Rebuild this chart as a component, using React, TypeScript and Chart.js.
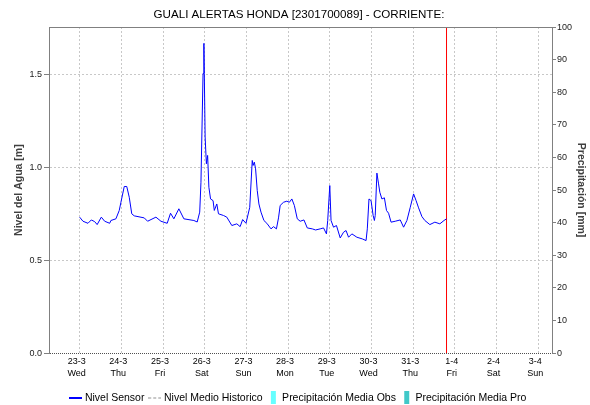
import React, { useEffect, useRef } from 'react';
import { Chart, registerables } from 'chart.js';

Chart.register(...registerables);

const TITLE = 'GUALI ALERTAS HONDA [2301700089] - CORRIENTE:';
const LEFT_TITLE = 'Nivel del Agua [m]';
const RIGHT_TITLE = 'Precipitación [mm]';

// x ticks: one per day, starting 23-3 00:00 (value 0)
const dayLabels = ['23-3', '24-3', '25-3', '26-3', '27-3', '28-3', '29-3', '30-3', '31-3', '1-4', '2-4', '3-4'];
const weekdayLabels = ['Wed', 'Thu', 'Fri', 'Sat', 'Sun', 'Mon', 'Tue', 'Wed', 'Thu', 'Fri', 'Sat', 'Sun'];

// Nivel Sensor: time in days since 23-3 00:00, level in m
const sensorTimes = [
  0.00, 0.08, 0.20, 0.28, 0.36, 0.42, 0.52, 0.60, 0.72, 0.75, 0.87, 0.95, 0.99, 1.07, 1.13, 1.19,
  1.25, 1.31, 1.55, 1.63, 1.83, 1.95, 2.10, 2.18, 2.26, 2.38, 2.50, 2.74, 2.82, 2.88, 2.91, 2.96,
  2.98, 2.99, 3.01, 3.04, 3.07, 3.10, 3.14, 3.20, 3.23, 3.29, 3.33, 3.45, 3.53, 3.65, 3.77, 3.85,
  3.91, 3.99, 4.08, 4.14, 4.16, 4.19, 4.22, 4.26, 4.30, 4.35, 4.42, 4.49, 4.59, 4.65, 4.72, 4.77,
  4.81, 4.89, 4.97, 5.03, 5.09, 5.15, 5.22, 5.29, 5.38, 5.46, 5.58, 5.66, 5.77, 5.85, 5.92, 5.95,
  6.00, 6.03, 6.09, 6.16, 6.25, 6.33, 6.39, 6.45, 6.53, 6.65, 6.78, 6.87, 6.90, 6.94, 6.99, 7.04,
  7.07, 7.09, 7.13, 7.17, 7.20, 7.25, 7.31, 7.36, 7.41, 7.47, 7.57, 7.69, 7.77, 7.85, 7.93, 8.01,
  8.07, 8.13, 8.21, 8.28, 8.40, 8.52, 8.64, 8.74, 8.80,
];
const sensorLevels = [
  0.732, 0.710, 0.699, 0.717, 0.708, 0.692, 0.732, 0.710, 0.699, 0.714, 0.723, 0.768, 0.812, 0.897, 0.897, 0.839,
  0.750, 0.739, 0.728, 0.710, 0.732, 0.710, 0.699, 0.753, 0.723, 0.777, 0.723, 0.714, 0.706, 0.759, 0.920, 1.505,
  1.667, 1.505, 1.163, 1.019, 1.064, 0.893, 0.830, 0.821, 0.768, 0.803, 0.750, 0.741, 0.732, 0.687, 0.696, 0.681,
  0.719, 0.699, 0.785, 1.037, 1.010, 1.028, 0.992, 0.875, 0.803, 0.759, 0.714, 0.699, 0.669, 0.681, 0.669, 0.728,
  0.795, 0.812, 0.818, 0.812, 0.830, 0.795, 0.723, 0.710, 0.717, 0.674, 0.669, 0.663, 0.669, 0.674, 0.642, 0.714,
  0.902, 0.714, 0.678, 0.687, 0.620, 0.651, 0.660, 0.624, 0.642, 0.624, 0.615, 0.606, 0.669, 0.830, 0.821, 0.741,
  0.714, 0.741, 0.969, 0.911, 0.866, 0.830, 0.836, 0.768, 0.753, 0.705, 0.710, 0.717, 0.678, 0.714, 0.785, 0.857,
  0.821, 0.782, 0.735, 0.714, 0.692, 0.705, 0.696, 0.714, 0.723,
];

// Series without visible values in the reference
const historicTimes: number[] = [];
const historicLevels: number[] = [];
const precipObsTimes: number[] = [];
const precipObsValues: number[] = [];
const precipProTimes: number[] = [];
const precipProValues: number[] = [];

// current time marker (red vertical line)
const nowTime = 8.8;

const levelTicks = [0, 0.5, 1.0, 1.5];
const precipTicks = [0, 10, 20, 30, 40, 50, 60, 70, 80, 90, 100];
const xRange = [-0.735, 11.33];
const levelRange = [0, 1.755];
const precipRange = [0, 100];

const FONT = "'Liberation Sans', Arial, sans-serif";

function makeSwatch(w: number, h: number, draw: (c: CanvasRenderingContext2D) => void) {
  const c = document.createElement('canvas');
  c.width = w;
  c.height = h;
  const g = c.getContext('2d')!;
  draw(g);
  return c;
}

export default function App() {
  const ref = useRef<HTMLCanvasElement | null>(null);

  useEffect(() => {
    if (!ref.current) return;

    const lineImg = makeSwatch(13, 2, (g) => {
      g.fillStyle = '#0000ff';
      g.fillRect(0, 0, 13, 2);
    });
    const dashImg = makeSwatch(13, 2, (g) => {
      g.fillStyle = '#c8c8c8';
      g.fillRect(0, 0, 3, 2);
      g.fillRect(5, 0, 3, 2);
      g.fillRect(10, 0, 3, 2);
    });
    const obsImg = makeSwatch(8, 13, (g) => {
      g.fillStyle = '#66ffff';
      g.fillRect(2, 0, 5, 13);
    });
    const proImg = makeSwatch(8, 13, (g) => {
      g.fillStyle = '#40c8c8';
      g.fillRect(2, 0, 5, 13);
    });

    const frameTop = {
      id: 'frameTop',
      afterDraw(chart: any) {
        const { ctx, chartArea } = chart;
        ctx.save();
        ctx.strokeStyle = '#808080';
        ctx.lineWidth = 1;
        const y = Math.floor(chartArea.top) + 0.5;
        ctx.beginPath();
        ctx.moveTo(chartArea.left, y);
        ctx.lineTo(chartArea.right, y);
        ctx.stroke();
        ctx.restore();
      },
    };

    const legendItem = (text: string, img: HTMLCanvasElement, i: number) => ({
      text,
      pointStyle: img,
      fillStyle: 'rgba(0,0,0,0)',
      strokeStyle: 'rgba(0,0,0,0)',
      lineWidth: 0,
      hidden: false,
      datasetIndex: i,
      fontColor: '#000',
    });

    const chart = new Chart(ref.current, {
      type: 'line',
      data: {
        datasets: [
          {
            label: 'Nivel Sensor',
            data: sensorTimes.map((t, i) => ({ x: t, y: sensorLevels[i] })),
            borderColor: '#0000ff',
            borderWidth: 1,
            pointRadius: 0,
            tension: 0,
            yAxisID: 'y',
          },
          {
            label: 'Nivel Medio Historico',
            data: historicTimes.map((t, i) => ({ x: t, y: historicLevels[i] })),
            borderColor: '#c8c8c8',
            borderDash: [3, 2],
            borderWidth: 1,
            pointRadius: 0,
            yAxisID: 'y',
          },
          {
            type: 'bar',
            label: 'Precipitación Media Obs',
            data: precipObsTimes.map((t, i) => ({ x: t, y: precipObsValues[i] })),
            backgroundColor: '#66ffff',
            yAxisID: 'y2',
          } as any,
          {
            type: 'bar',
            label: 'Precipitación Media Pro',
            data: precipProTimes.map((t, i) => ({ x: t, y: precipProValues[i] })),
            backgroundColor: '#40c8c8',
            yAxisID: 'y2',
          } as any,
          {
            label: 'now',
            data: [
              { x: nowTime, y: precipRange[0] },
              { x: nowTime, y: precipRange[1] },
            ],
            borderColor: '#ff0000',
            borderWidth: 1,
            pointRadius: 0,
            yAxisID: 'y2',
          },
        ],
      },
      options: {
        animation: false,
        responsive: false,
        devicePixelRatio: 1,
        layout: { padding: { top: 0, left: 8, right: 0, bottom: -8 } },
        plugins: {
          title: {
            display: true,
            text: TITLE,
            color: '#000',
            font: { family: FONT, size: 11.6, weight: 'normal' },
            padding: { top: 8, bottom: 5.1 },
          },
          legend: {
            position: 'bottom',
            align: 'center',
            labels: {
              usePointStyle: true,
              pointStyleWidth: 8,
              boxHeight: 11,
              padding: 6.3,
              color: '#000',
              font: { family: FONT, size: 10.5 },
              generateLabels: () =>
                [
                  legendItem('Nivel Sensor', lineImg, 0),
                  legendItem('Nivel Medio Historico', dashImg, 1),
                  legendItem('Precipitación Media Obs', obsImg, 2),
                  legendItem('Precipitación Media Pro', proImg, 3),
                ] as any,
            },
          },
          tooltip: { enabled: false },
        },
        scales: {
          x: {
            type: 'linear',
            offset: false,
            min: xRange[0],
            max: xRange[1],
            afterBuildTicks: (s: any) => {
              s.ticks = dayLabels.map((_, i) => ({ value: i }));
            },
            afterFit: (s: any) => {
              s.height = 33;
            },
            ticks: {
              autoSkip: false,
              maxRotation: 0,
              minRotation: 0,
              padding: 2,
              labelOffset: -3,
              color: '#000',
              font: { family: FONT, size: 9, lineHeight: 1.33 },
              callback: (_v: any, i: number) => [dayLabels[i], weekdayLabels[i]],
            },
            grid: { color: '#c8c8c8', drawTicks: false, lineWidth: 1, offset: false },
            border: { display: false, dash: [2, 2] },
          },
          y: {
            position: 'left',
            min: levelRange[0],
            max: levelRange[1],
            afterBuildTicks: (s: any) => {
              s.ticks = levelTicks.map((v) => ({ value: v }));
            },
            afterFit: (s: any) => {
              s.width = 41;
            },
            ticks: {
              padding: 2,
              color: '#222',
              font: { family: FONT, size: 9 },
              callback: (v: any) => Number(v).toFixed(1),
            },
            grid: {
              color: (c: any) => (c.tick && c.tick.value === 0 ? '#505050' : '#c8c8c8'),
              tickColor: '#808080',
              tickLength: 5,
              drawTicks: true,
            },
            border: {
              display: true,
              color: '#808080',
              dash: (c: any) => (c.tick && c.tick.value === 0 ? [1, 1] : [2, 2]),
            } as any,
            title: {
              display: true,
              text: LEFT_TITLE,
              color: '#404040',
              font: { family: FONT, size: 10.5, weight: 'bold' },
              padding: { top: 4.5, bottom: 0 },
            },
          },
          y2: {
            position: 'right',
            min: precipRange[0],
            max: precipRange[1],
            afterBuildTicks: (s: any) => {
              s.ticks = precipTicks.map((v) => ({ value: v }));
            },
            afterFit: (s: any) => {
              s.width = 38;
            },
            ticks: {
              padding: 1,
              color: '#222',
              font: { family: FONT, size: 9 },
            },
            grid: {
              drawOnChartArea: false,
              drawTicks: true,
              tickLength: 4,
              tickColor: '#808080',
              color: '#808080',
            },
            border: { display: true, color: '#808080' },
            title: {
              display: true,
              text: RIGHT_TITLE,
              color: '#404040',
              font: { family: FONT, size: 10.5, weight: 'bold' },
              padding: { top: 2.7, bottom: 0 },
            },
          },
        },
      } as any,
      plugins: [frameTop],
    });

    return () => chart.destroy();
  }, []);

  return (
    <div style={{ position: 'fixed', left: 0, top: 0, width: 590, height: 405, background: '#fff' }}>
      <canvas ref={ref} width={590} height={405} style={{ display: 'block' }} />
    </div>
  );
}
